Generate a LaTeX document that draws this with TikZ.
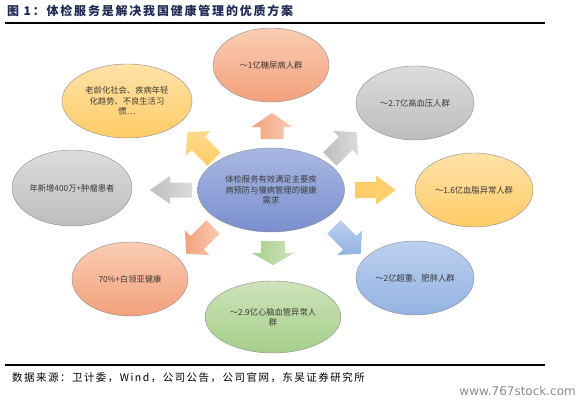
\documentclass[tikz,border=0pt]{standalone}
\usepackage{fontspec}
\setmainfont{Liberation Serif}
\newfontfamily\cjk{Noto Sans CJK SC}
\newfontfamily\cjktitle{Noto Sans CJK SC}[LetterSpace=15]
\newfontfamily\cjksrc{Noto Sans CJK SC}[LetterSpace=14]
\newfontfamily\wm{DejaVu Sans}
\usetikzlibrary{shapes.geometric,calc}
\definecolor{titleblue}{HTML}{1F2A55}
\definecolor{txt}{HTML}{3A3A3A}
\definecolor{salL}{HTML}{F9CDB3}
\definecolor{salD}{HTML}{F3A07C}
\definecolor{yelL}{HTML}{FFE2A8}
\definecolor{yelD}{HTML}{FFCC66}
\definecolor{gryL}{HTML}{DCDCDC}
\definecolor{gryD}{HTML}{BDBDBD}
\definecolor{bluL}{HTML}{BCD0EE}
\definecolor{bluD}{HTML}{92B3E2}
\definecolor{cenL}{HTML}{A9B8E2}
\definecolor{cenD}{HTML}{7A8FCF}
\definecolor{grnL}{HTML}{CDE3BA}
\definecolor{grnD}{HTML}{A6CF8A}
\definecolor{edge}{HTML}{8C8C8C}
\tikzset{
  bub/.style={ellipse, draw=edge, line width=0.4pt, inner sep=0pt, align=center,
    text=txt, font=\cjk\fontsize{8.3}{10.3}\selectfont},
  sal/.style={top color=salL, bottom color=salD},
  yel/.style={top color=yelL, bottom color=yelD},
  gry/.style={top color=gryL, bottom color=gryD},
  blu/.style={top color=bluL, bottom color=bluD},
  cen/.style={top color=cenL, bottom color=cenD},
  grn/.style={top color=grnL, bottom color=grnD},
  rule/.style={line width=2pt, black}
}
% #1 start, #2 tip, #3 neck name, #4 half head width, #5 half shaft width, #6 head length, #7 style
\newcommand{\barrow}[7]{%
  \coordinate (#3) at ($(#2)!#6!(#1)$);
  \shade[#7] ($(#1)!#5!90:(#2)$) -- ($(#3)!#5!90:(#2)$) -- ($(#3)!#4!90:(#2)$)
    -- (#2) -- ($(#3)!#4!-90:(#2)$) -- ($(#3)!#5!-90:(#2)$) -- ($(#1)!#5!-90:(#2)$) -- cycle;
}
\begin{document}
\begin{tikzpicture}[x=1pt,y=-1pt]
\useasboundingbox (0,0) rectangle (582,402);
\fill[white] (0,0) rectangle (582,402);
% title and rules
\node[anchor=west, inner sep=0pt, text=titleblue, font=\cjktitle\bfseries\fontsize{12}{14}\selectfont] (title) at (7,11) {图 1：体检服务是解决我国健康管理的优质方案};
\coordinate (r1a) at (5,23); \coordinate (r1b) at (545,23);
\draw[rule] (r1a) -- (r1b);
\coordinate (r2a) at (5,365); \coordinate (r2b) at (545,365);
\draw[rule] (r2a) -- (r2b);
\node[anchor=west, inner sep=0pt, font=\cjksrc\fontsize{10.5}{13}\selectfont] (src) at (12,378) {数据来源：卫计委，Wind，公司公告，公司官网，东吴证券研究所};
\node[anchor=east, inner sep=0pt, text=black!45, font=\wm\fontsize{12}{14}\selectfont] (wm) at (576,391) {www.767stock.com};
% bubbles
\node[bub, sal, minimum width=116pt, minimum height=74pt] (e1) at (271,65) {～1亿糖尿病人群};
\node[bub, yel, minimum width=110pt, minimum height=74pt, text width=92pt] (e2) at (127,101) {老龄化社会、疾病年轻\\化趋势、不良生活习\\惯…};
\node[bub, gry, minimum width=118pt, minimum height=74pt] (e3) at (415,103) {～2.7亿高血压人群};
\node[bub, gry, minimum width=120pt, minimum height=76pt] (e4) at (72,188) {年新增400万+肿瘤患者};
\node[bub, cen, minimum width=132pt, minimum height=84pt, text width=104pt] (e5) at (271,190) {体检服务有效满足主要疾\\病预防与慢病管理的健康\\需求};
\node[bub, yel, minimum width=118pt, minimum height=74pt] (e6) at (474,190) {～1.6亿血脂异常人群};
\node[bub, sal, minimum width=116pt, minimum height=74pt] (e7) at (130,279) {70\%+白领亚健康};
\node[bub, blu, minimum width=118pt, minimum height=74pt] (e8) at (415,278) {～2亿超重、肥胖人群};
\node[bub, grn, minimum width=116pt, minimum height=72pt, text width=96pt] (e9) at (273,317) {～2.9亿心脑血管异常人\\群};
% block arrows
\coordinate (uA) at (272,139); \coordinate (uB) at (272,113);
\barrow{uA}{uB}{uH}{20.5pt}{11.5pt}{14pt}{left color=salD, right color=salL}
\coordinate (dA) at (273,241); \coordinate (dB) at (273,265);
\barrow{dA}{dB}{dH}{21pt}{12pt}{12pt}{left color=grnD, right color=grnL}
\coordinate (rA) at (355,190); \coordinate (rB) at (396,190);
\barrow{rA}{rB}{rH}{14.5pt}{8pt}{20pt}{left color=yelD, right color=yelD!80!yelL}
\coordinate (lA) at (192,190); \coordinate (lB) at (150,190);
\barrow{lA}{lB}{lH}{14pt}{7.5pt}{20pt}{left color=gryD, right color=gryL}
\coordinate (ulA) at (214.1,159.1); \coordinate (ulB) at (187.3,132.3);
\barrow{ulA}{ulB}{ulH}{17.5pt}{9.5pt}{15.5pt}{top color=yelL!60!yelD, bottom color=yelD}
\coordinate (urA) at (329.9,159.1); \coordinate (urB) at (356.7,132.3);
\barrow{urA}{urB}{urH}{17.5pt}{9.5pt}{15.5pt}{left color=gryD, right color=gryL}
\coordinate (llA) at (213.1,226.9); \coordinate (llB) at (186.3,253.7);
\barrow{llA}{llB}{llH}{17.5pt}{9.5pt}{15.5pt}{left color=salD, right color=salL}
\coordinate (lrA) at (333.9,226.9); \coordinate (lrB) at (360.7,253.7);
\barrow{lrA}{lrB}{lrH}{17.5pt}{9.5pt}{15.5pt}{top color=bluL, bottom color=bluD}
\end{tikzpicture}
\end{document}
